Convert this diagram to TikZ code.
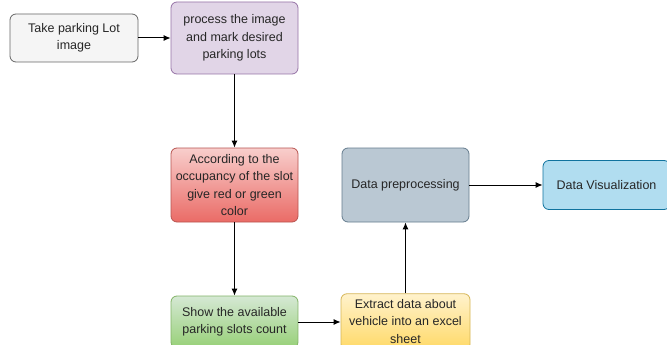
\documentclass[tikz,border=0pt]{standalone}
\usepackage{fontspec}
\setmainfont{Liberation Sans}
\usetikzlibrary{positioning,arrows.meta}
\definecolor{greyfill}{HTML}{F5F5F5}
\definecolor{greyline}{HTML}{666666}
\definecolor{purplefill}{HTML}{E1D5E7}
\definecolor{purpleline}{HTML}{9673A6}
\definecolor{redtop}{HTML}{F8CECC}
\definecolor{redbottom}{HTML}{EA6B66}
\definecolor{redline}{HTML}{B85450}
\definecolor{greentop}{HTML}{D5E8D4}
\definecolor{greenbottom}{HTML}{97D077}
\definecolor{greenline}{HTML}{82B366}
\definecolor{yellowtop}{HTML}{FFF2CC}
\definecolor{yellowbottom}{HTML}{FFD966}
\definecolor{yellowline}{HTML}{D6B656}
\definecolor{slatefill}{HTML}{BAC8D3}
\definecolor{slateline}{HTML}{23445D}
\definecolor{bluefill}{HTML}{B1DDF0}
\definecolor{blueline}{HTML}{10739E}
\tikzset{box/.style={draw, rounded corners=6pt, align=center, inner sep=2pt,
    font=\fontsize{12.5}{17.5}\selectfont, text=black!85, line width=0.8pt}}
\tikzset{flow/.style={-{Latex[length=7pt,width=6pt]}, line width=1pt}}

\begin{document}
\begin{tikzpicture}[x=1pt, y=-1pt]
    \clip (0,0) rectangle (667,345);
    \fill[white] (0,0) rectangle (667,345);
    \draw (74,38) node[box, fill=greyfill, draw=greyline, minimum width=128pt, minimum height=48pt] (lot) {Take parking Lot\\image};
    \draw (234.5,38) node[box, fill=purplefill, draw=purpleline, minimum width=127pt, minimum height=72pt] (mark) {process the image\\and mark desired\\parking lots};
    \draw (234.5,185) node[box, top color=redtop, bottom color=redbottom, draw=redline, minimum width=127pt, minimum height=74pt] (occ) {According to the\\occupancy of the slot\\give red or green\\color};
    \draw (234.5,322) node[box, top color=greentop, bottom color=greenbottom, draw=greenline, minimum width=127pt, minimum height=52pt] (count) {Show the available\\parking slots count};
    \draw (405.5,322) node[box, top color=yellowtop, bottom color=yellowbottom, draw=yellowline, minimum width=129pt, minimum height=52pt] (extract) {\raisebox{1.5pt}{\begin{tabular}{@{}c@{}}Extract data about\\vehicle into an excel\\sheet\end{tabular}}};
    \draw (405.5,185) node[box, fill=slatefill, draw=slateline!70, minimum width=127pt, minimum height=74pt] (prep) {Data preprocessing};
    \draw (606.5,185) node[box, fill=bluefill, draw=blueline, minimum width=127pt, minimum height=49pt] (vis) {Data Visualization};
    \draw[flow] (lot) -- (mark);
    \draw[flow] (mark) -- (occ);
    \draw[flow] (occ) -- (count);
    \draw[flow] (count) -- (extract);
    \draw[flow] (extract) -- (prep);
    \draw[flow] (prep) -- (vis);
\end{tikzpicture}
\end{document}
